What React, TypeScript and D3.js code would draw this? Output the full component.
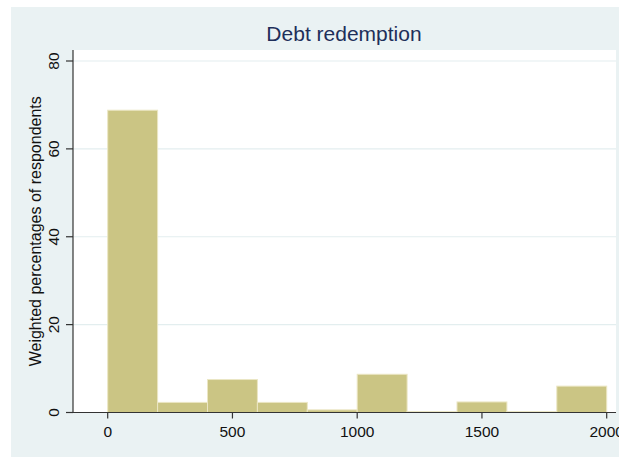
import React from "react";
import * as d3 from "d3";

const binStarts = [0, 200, 400, 600, 800, 1000, 1200, 1400, 1600, 1800];
const binWidth = 200;
const percentages = [68.8, 2.3, 7.5, 2.3, 0.6, 8.7, 0.2, 2.4, 0.2, 6.0];
const xTicks = [0, 500, 1000, 1500, 2000];
const yTicks = [0, 20, 40, 60, 80];
const title = "Debt redemption";
const yLabel = "Weighted percentages of respondents";

export default function App() {
  const W = 619, H = 457;
  const plotL = 73, plotR = 616, plotT = 50, plotB = 412.5;
  const x = d3.scaleLinear().domain([0, 2000]).range([107.7, 606.7]);
  const y = d3.scaleLinear().domain([0, 80]).range([412.5, 61]);
  const font = "'Liberation Sans', Arial, sans-serif";
  return (
    <svg width={W} height={H} style={{ position: "absolute", left: 0, top: 0 }} fontFamily={font}>
      <rect x={0} y={0} width={W} height={H} fill="#ffffff" />
      <rect x={11} y={7} width={W - 11} height={H - 7} fill="#eaf2f3" />
      <rect x={plotL} y={plotT} width={plotR - plotL} height={plotB - plotT} fill="#ffffff" />
      {yTicks.filter(t => t > 0).map(t => (
        <line key={"g" + t} x1={plotL} x2={plotR} y1={y(t)} y2={y(t)} stroke="#e3eeef" strokeWidth={1.2} />
      ))}
      {binStarts.map((b, i) => (
        <rect key={i} x={x(b)} y={y(percentages[i])} width={x(b + binWidth) - x(b)}
          height={y(0) - y(percentages[i])} fill="#cbc584" stroke="#ebe6c4" strokeWidth={1} />
      ))}
      <line x1={plotL} x2={plotL} y1={plotT} y2={plotB} stroke="#333" strokeWidth={1.2} />
      <line x1={plotL} x2={plotR} y1={plotB} y2={plotB} stroke="#333" strokeWidth={1.2} />
      {yTicks.map(t => (
        <g key={"y" + t}>
          <line x1={66} x2={plotL} y1={y(t)} y2={y(t)} stroke="#333" strokeWidth={1.2} />
          <text transform={`translate(59,${y(t)}) rotate(-90)`} textAnchor="middle" fontSize={15.5} fill="#111">{t}</text>
        </g>
      ))}
      {xTicks.map(t => (
        <g key={"x" + t}>
          <line x1={x(t)} x2={x(t)} y1={plotB} y2={plotB + 6} stroke="#333" strokeWidth={1.2} />
          <text x={x(t)} y={437} textAnchor="middle" fontSize={15.5} fill="#111">{t}</text>
        </g>
      ))}
      <text transform={`translate(41,${(plotT + plotB) / 2}) rotate(-90)`} textAnchor="middle" fontSize={16} fill="#111">{yLabel}</text>
      <text x={344} y={41} textAnchor="middle" fontSize={21} fill="#1e2f5a">{title}</text>
    </svg>
  );
}
